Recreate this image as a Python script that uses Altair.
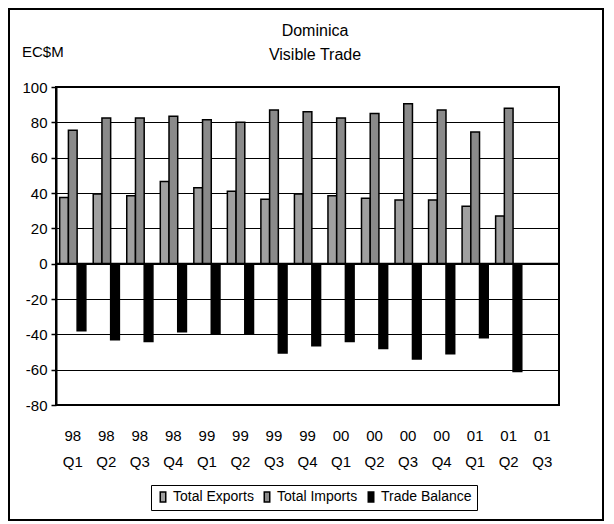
import altair as alt
import pandas as pd

years = ["98", "98", "98", "98", "99", "99", "99", "99", "00", "00", "00", "00", "01", "01", "01"]
quarters = ["Q1", "Q2", "Q3", "Q4", "Q1", "Q2", "Q3", "Q4", "Q1", "Q2", "Q3", "Q4", "Q1", "Q2", "Q3"]
exports = [37.5, 39.5, 38.5, 46.5, 43.0, 41.0, 36.5, 39.5, 38.5, 37.0, 36.0, 36.0, 32.5, 27.0]
imports = [75.5, 82.5, 82.5, 83.5, 81.5, 80.0, 87.0, 86.0, 82.5, 85.0, 90.5, 87.0, 74.5, 88.0]
balance = [-38.0, -43.0, -44.0, -38.5, -39.5, -39.5, -50.5, -46.5, -44.0, -48.0, -54.0, -51.0, -42.0, -61.0]
series = ["Total Exports", "Total Imports", "Trade Balance"]
colors = ["#a0a0a0", "#8a8a8a", "#000000"]
y_ticks = [-80, -60, -40, -20, 0, 20, 40, 60, 80, 100]

cats = [f"{y}|{q}" for y, q in zip(years, quarters)]
rows = []
for name, vals in zip(series, [exports, imports, balance]):
    for c, v in zip(cats, vals):
        rows.append({"period": c, "series": name, "value": v})
df = pd.DataFrame(rows)

font = "Liberation Sans"
yscale = alt.Scale(domain=[-80, 100], nice=False, zero=False)
y_axis = alt.Axis(title=None, values=y_ticks, grid=True, gridColor="black", gridWidth=1,
                  gridOpacity=1, domainColor="black", domainWidth=2, tickColor="black",
                  tickSize=5, tickWidth=1.5, labelPadding=4, labelFontSize=15,
                  labelFont=font, labelColor="black", labelOverlap=False,
                  labelExpr="toString(datum.value)")

x_enc = alt.X("period:N", scale=alt.Scale(domain=cats, paddingInner=0.22, paddingOuter=0.11),
              axis=alt.Axis(title=None, labelExpr="split(datum.value, '|')", labelAngle=0,
                            domain=False, ticks=False, labelPadding=35, labelLineHeight=26,
                            labelFontSize=15, labelFont=font, labelColor="black",
                            labelBaseline="alphabetic", grid=False))

bars = alt.Chart(df).mark_bar(stroke="black", strokeWidth=1.5).encode(
    x=x_enc,
    xOffset=alt.XOffset("series:N", scale=alt.Scale(domain=series, paddingInner=0, paddingOuter=0)),
    y=alt.Y("value:Q", scale=yscale, axis=y_axis),
    color=alt.Color("series:N", scale=alt.Scale(domain=series, range=colors),
                    legend=alt.Legend(title=None, orient="none", legendX=95, legendY=398,
                                      direction="horizontal", columnPadding=6,
                                      strokeColor="black", padding=5,
                                      labelFontSize=14, labelFont=font, labelColor="black",
                                      symbolType="M-0.55,-1H0.55V1H-0.55Z", symbolSize=100,
                                      symbolStrokeColor="black", symbolStrokeWidth=1.5,
                                      labelOffset=3)),
)

zero = alt.Chart(pd.DataFrame({"a": [0]})).mark_rule(color="black", strokeWidth=2).encode(
    y=alt.YDatum(0, scale=yscale, axis=y_axis))

titles = pd.DataFrame({"t": ["Dominica", "Visible Trade"], "x": [259, 259], "y": [-51, -27]})
title_layer = alt.Chart(titles).mark_text(font=font, fontSize=16, color="black",
                                          baseline="alphabetic", align="center").encode(
    text="t:N", x=alt.X("x:Q", scale=None), y=alt.Y("y:Q", scale=None))

unit = alt.Chart(pd.DataFrame({"t": ["EC$M"]})).mark_text(font=font, fontSize=15, color="black",
                                                         baseline="alphabetic", align="left").encode(
    text="t:N", x=alt.value(-34), y=alt.value(-30))

border = alt.Chart(pd.DataFrame({"a": [0]})).mark_rect(fill=None, stroke="black", strokeWidth=2).encode(
    x=alt.value(-47), x2=alt.value(547), y=alt.value(-78), y2=alt.value(433))

chart = alt.layer(bars, zero, title_layer, unit, border).properties(
    width=503, height=318,
    background="white",
    autosize=alt.AutoSizeParams(type="none"),
    padding={"left": 48, "top": 79, "right": 47, "bottom": 118},
).configure_view(stroke="black", strokeWidth=2)

chart.save("out.html", embed_options={"renderer": "svg", "actions": False})
